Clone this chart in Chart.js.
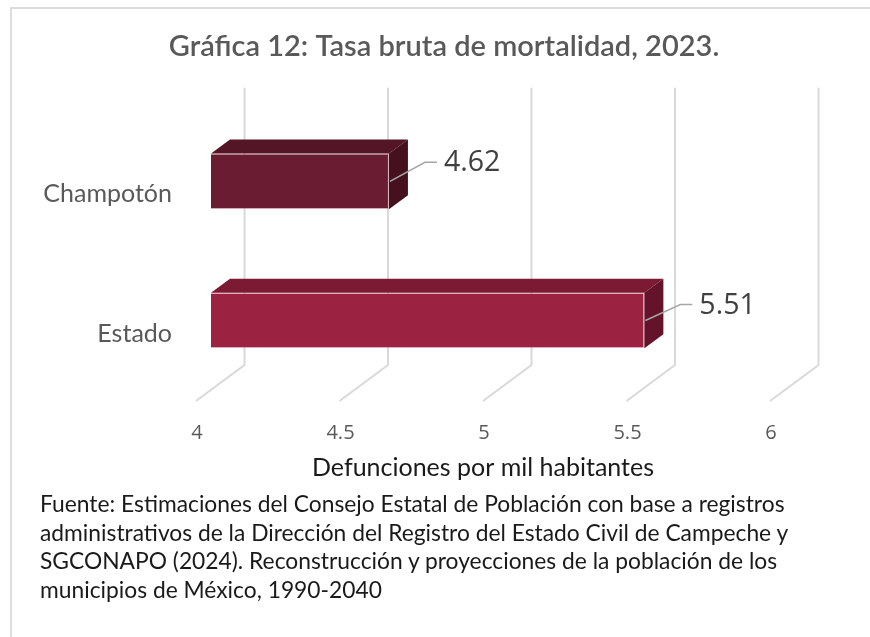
<!DOCTYPE html>
<html>
<head>
<meta charset="utf-8">
<script src="https://cdn.jsdelivr.net/npm/chart.js@4.4.1/dist/chart.umd.min.js"></script>
<style>
  html, body { margin: 0; padding: 0; background: #fff; }
  #wrap { position: relative; width: 870px; height: 637px; overflow: hidden; }
  #frame { position: absolute; left: 10px; top: 7px; width: 880px; height: 660px;
           border-top: 2px solid #dcdcdc; border-left: 2px solid #dcdcdc; }
  #c { position: absolute; left: 0; top: 0; }
  #note { position: absolute; left: 40px; top: 489px; width: 830px;
          font-family: Lato, "Open Sans", sans-serif; font-size: 22.8px; line-height: 28.5px; color: #1a1a1a; }
</style>
</head>
<body>
<div id="wrap">
  <div id="frame"></div>
  <canvas id="c" width="870" height="637"></canvas>
  <div id="note">Fuente: Estimaciones del Consejo Estatal de Población con base a registros<br>administrativos de la Dirección del Registro del Estado Civil de Campeche y<br>SGCONAPO (2024). Reconstrucción y proyecciones de la población de los<br>municipios de México, 1990-2040</div>
</div>
<script>
const categories = ['Champotón', 'Estado'];
const values = [4.62, 5.51];
const xTicks = [4, 4.5, 5, 5.5, 6];
const titleText = 'Gráfica 12: Tasa bruta de mortalidad, 2023.';
const axisTitle = 'Defunciones por mil habitantes';

const frontColors = ['#6a1c32', '#9c2241'];
const topColors = ['#541526', '#7b1a32'];
const sideColors = ['#46111f', '#65132a'];
const DX = 19, DY = 14;          // bar depth
const GBX = 33.5, GBY = 25;      // back plane offset from bar front plane
const GFX = -15, GFY = 11;       // floor front offset

const threeD = {
  id: 'threeD',
  beforeDatasetsDraw(chart) {
    const ctx = chart.ctx, xs = chart.scales.x, area = chart.chartArea;
    ctx.save();
    ctx.strokeStyle = '#d9d9d9';
    ctx.lineWidth = 2;
    xTicks.forEach(v => {
      const px = xs.getPixelForValue(v);
      ctx.beginPath();
      ctx.moveTo(px + GBX, area.top - 24);
      ctx.lineTo(px + GBX, area.bottom - GBY);
      ctx.lineTo(px + GFX, area.bottom + GFY);
      ctx.stroke();
    });
    ctx.restore();
  },
  afterDatasetsDraw(chart) {
    const ctx = chart.ctx;
    const meta = chart.getDatasetMeta(0);
    ctx.save();
    meta.data.forEach((bar, i) => {
      const p = bar.getProps(['x', 'y', 'base', 'height'], true);
      const top = p.y - p.height / 2, bottom = p.y + p.height / 2;
      ctx.fillStyle = topColors[i];
      ctx.beginPath();
      ctx.moveTo(p.base, top);
      ctx.lineTo(p.base + DX, top - DY);
      ctx.lineTo(p.x + DX, top - DY);
      ctx.lineTo(p.x, top);
      ctx.closePath();
      ctx.fill();
      ctx.fillStyle = sideColors[i];
      ctx.beginPath();
      ctx.moveTo(p.x, top);
      ctx.lineTo(p.x + DX, top - DY);
      ctx.lineTo(p.x + DX, bottom - DY);
      ctx.lineTo(p.x, bottom);
      ctx.closePath();
      ctx.fill();
      const rise = i === 0 ? 19 : 16;
      ctx.strokeStyle = '#a6a6a6';
      ctx.lineWidth = 1.5;
      ctx.beginPath();
      ctx.moveTo(p.x + 1, p.y);
      ctx.lineTo(p.x + 36, p.y - rise);
      ctx.lineTo(p.x + 48, p.y - rise);
      ctx.stroke();
      ctx.fillStyle = '#404040';
      ctx.font = '28.5px "Open Sans", sans-serif';
      ctx.textAlign = 'left';
      ctx.textBaseline = 'middle';
      ctx.fillText(values[i].toFixed(2), p.x + 55, p.y - rise + 1);
    });
    ctx.restore();
  },
  afterDraw(chart) {
    const ctx = chart.ctx, xs = chart.scales.x;
    ctx.save();
    ctx.fillStyle = '#1a1a1a';
    ctx.font = '25px Lato, "Open Sans", sans-serif';
    ctx.textAlign = 'center';
    ctx.textBaseline = 'middle';
    // axis title centred on the front (floor) plane of the x axis
    const cx = (xs.getPixelForValue(xTicks[0]) + xs.getPixelForValue(xTicks[xTicks.length - 1])) / 2 + GFX;
    ctx.fillText(axisTitle, cx, xs.bottom - 22);
    ctx.restore();
  }
};

new Chart(document.getElementById('c'), {
  type: 'bar',
  data: {
    labels: categories,
    datasets: [{
      data: values,
      base: 4,
      backgroundColor: frontColors,
      borderColor: 'rgba(235,170,185,0.55)',
      borderWidth: 1,
      barPercentage: 0.4,
      categoryPercentage: 1
    }]
  },
  options: {
    indexAxis: 'y',
    responsive: false,
    animation: false,
    events: [],
    layout: { padding: { left: 18, right: 0, top: 0, bottom: 147 } },
    plugins: {
      legend: { display: false },
      tooltip: { enabled: false },
      title: {
        display: true,
        text: titleText,
        color: '#595959',
        font: { family: 'Lato, "Open Sans", sans-serif', size: 29, weight: '600', lineHeight: 1.2 },
        padding: { top: 29, bottom: 48 }
      }
    },
    scales: {
      x: {
        type: 'linear',
        min: 4, max: 6,
        afterBuildTicks(scale) { scale.ticks = xTicks.map(v => ({ value: v })); },
        afterFit(scale) { scale.height = 100; },
        grid: { display: false, drawTicks: false },
        border: { display: false },
        ticks: {
          labelOffset: -14,
          padding: 31,
          color: '#595959',
          font: { family: '"Open Sans", sans-serif', size: 20 },
          callback: v => String(v)
        },
        title: { display: false }
      },
      y: {
        afterFit(scale) { scale.width = 193; },
        grid: { display: false, drawTicks: false },
        border: { display: false },
        ticks: {
          labelOffset: 13,
          padding: 39,
          color: '#595959',
          font: { family: 'Lato, "Open Sans", sans-serif', size: 25 }
        }
      },
      yRight: {
        type: 'category',
        axis: 'y',
        position: 'right',
        afterFit(scale) { scale.width = 85; },
        grid: { display: false, drawTicks: false },
        border: { display: false },
        ticks: { display: false }
      }
    }
  },
  plugins: [threeD]
});
</script>
</body>
</html>
